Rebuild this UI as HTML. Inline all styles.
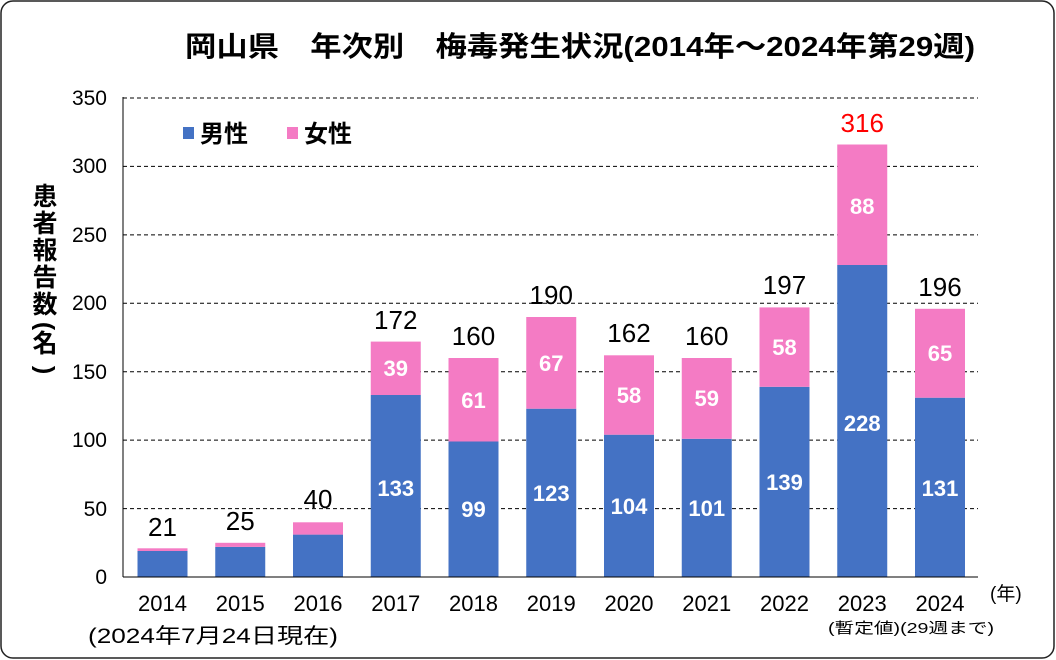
<!DOCTYPE html>
<html><head><meta charset="utf-8"><style>
html,body{margin:0;padding:0;background:#fff;}
svg{display:block;font-family:"Liberation Sans","Noto Sans CJK JP",sans-serif;}
</style></head><body>
<svg width="1056" height="660" viewBox="0 0 1056 660" xmlns="http://www.w3.org/2000/svg">
<rect x="1" y="1" width="1053" height="657" rx="12" fill="#fff" stroke="#222" stroke-width="1.5"/>
<text x="185" y="56" font-size="28" font-weight="bold" textLength="790" lengthAdjust="spacingAndGlyphs">岡山県　年次別　梅毒発生状況(2014年～2024年第29週)</text>
<g stroke="#000" stroke-width="1" stroke-dasharray="4,3">
<line x1="123" y1="98" x2="978" y2="98"/>
<line x1="123" y1="166.4" x2="978" y2="166.4"/>
<line x1="123" y1="234.9" x2="978" y2="234.9"/>
<line x1="123" y1="303.3" x2="978" y2="303.3"/>
<line x1="123" y1="371.7" x2="978" y2="371.7"/>
<line x1="123" y1="440.1" x2="978" y2="440.1"/>
<line x1="123" y1="508.6" x2="978" y2="508.6"/>
</g>
<g font-size="21" text-anchor="end">
<text x="107" y="105">350</text><text x="107" y="173">300</text><text x="107" y="242">250</text>
<text x="107" y="310">200</text><text x="107" y="379">150</text><text x="107" y="447">100</text>
<text x="107" y="516">50</text><text x="107" y="584">0</text>
</g>
<g font-size="25" font-weight="bold" text-anchor="middle">
<text x="45" y="205">患</text><text x="45" y="232">者</text><text x="45" y="259">報</text><text x="45" y="286">告</text><text x="45" y="313">数</text>
<text x="0" y="0" transform="translate(37,326) rotate(90)" text-anchor="middle">(</text>
<text x="45" y="352">名</text>
<text x="0" y="0" transform="translate(37,370) rotate(90)" text-anchor="middle">)</text>
</g>
<rect x="183" y="127" width="11" height="12" fill="#4472c4"/>
<text x="200" y="142" font-size="24" font-weight="bold">男性</text>
<rect x="287" y="127" width="11" height="12" fill="#f47bc4"/>
<text x="304" y="142" font-size="24" font-weight="bold">女性</text>
<g id="bars">
<rect x="137.5" y="551" width="50" height="26" fill="#4472c4"/><rect x="137.5" y="548.3" width="50" height="2.7" fill="#f47bc4"/>
<rect x="215.25" y="546.9" width="50" height="30.1" fill="#4472c4"/><rect x="215.25" y="542.8" width="50" height="4.1" fill="#f47bc4"/>
<rect x="293" y="534.6" width="50" height="42.4" fill="#4472c4"/><rect x="293" y="522.3" width="50" height="12.3" fill="#f47bc4"/>
<rect x="370.75" y="395" width="50" height="182" fill="#4472c4"/><rect x="370.75" y="341.6" width="50" height="53.4" fill="#f47bc4"/>
<rect x="448.5" y="441.5" width="50" height="135.5" fill="#4472c4"/><rect x="448.5" y="358" width="50" height="83.5" fill="#f47bc4"/>
<rect x="526.25" y="408.7" width="50" height="168.3" fill="#4472c4"/><rect x="526.25" y="317" width="50" height="91.7" fill="#f47bc4"/>
<rect x="604" y="434.7" width="50" height="142.3" fill="#4472c4"/><rect x="604" y="355.3" width="50" height="79.4" fill="#f47bc4"/>
<rect x="681.75" y="438.8" width="50" height="138.2" fill="#4472c4"/><rect x="681.75" y="358" width="50" height="80.8" fill="#f47bc4"/>
<rect x="759.5" y="386.8" width="50" height="190.2" fill="#4472c4"/><rect x="759.5" y="307.4" width="50" height="79.4" fill="#f47bc4"/>
<rect x="837.25" y="265" width="50" height="312" fill="#4472c4"/><rect x="837.25" y="144.5" width="50" height="120.5" fill="#f47bc4"/>
<rect x="915" y="397.7" width="50" height="179.3" fill="#4472c4"/><rect x="915" y="308.8" width="50" height="88.9" fill="#f47bc4"/>
</g>
<line x1="123" y1="97" x2="123" y2="577" stroke="#000" stroke-width="1"/>
<line x1="123" y1="577" x2="978" y2="577" stroke="#000" stroke-width="1"/>
<g font-size="26" text-anchor="middle">
<text x="162.5" y="536">21</text><text x="240.25" y="530">25</text><text x="318" y="508">40</text>
<text x="395.75" y="329">172</text><text x="473.5" y="345">160</text><text x="551.25" y="304">190</text>
<text x="629" y="342">162</text><text x="706.75" y="345">160</text><text x="784.5" y="294">197</text>
<text x="862.25" y="132" fill="#ff0000">316</text><text x="940" y="296">196</text>
</g>
<g font-size="22" font-weight="bold" fill="#fff" text-anchor="middle">
<text x="395.75" y="376">39</text><text x="395.75" y="496">133</text>
<text x="473.5" y="408">61</text><text x="473.5" y="517">99</text>
<text x="551.25" y="371">67</text><text x="551.25" y="501">123</text>
<text x="629" y="403">58</text><text x="629" y="514">104</text>
<text x="706.75" y="406">59</text><text x="706.75" y="516">101</text>
<text x="784.5" y="355">58</text><text x="784.5" y="490">139</text>
<text x="862.25" y="214">88</text><text x="862.25" y="431">228</text>
<text x="940" y="361">65</text><text x="940" y="496">131</text>
</g>
<g font-size="22" text-anchor="middle">
<text x="162.5" y="611">2014</text><text x="240.25" y="611">2015</text><text x="318" y="611">2016</text>
<text x="395.75" y="611">2017</text><text x="473.5" y="611">2018</text><text x="551.25" y="611">2019</text>
<text x="629" y="611">2020</text><text x="706.75" y="611">2021</text><text x="784.5" y="611">2022</text>
<text x="862.25" y="611">2023</text><text x="940" y="611">2024</text>
</g>
<text x="990" y="600" font-size="19">(年)</text>
<text x="828" y="633" font-size="15" textLength="166" lengthAdjust="spacingAndGlyphs">(暫定値)(29週まで)</text>
<text x="88" y="643" font-size="21" textLength="250" lengthAdjust="spacingAndGlyphs">(2024年7月24日現在)</text>
</svg>
</body></html>
